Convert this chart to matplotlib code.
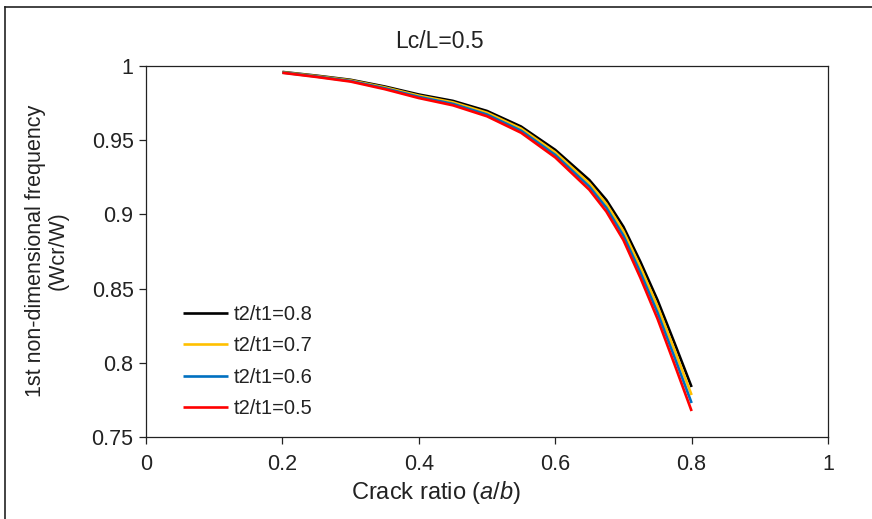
import matplotlib
matplotlib.use("Agg")
import matplotlib.pyplot as plt
from matplotlib.lines import Line2D

plt.rcParams['font.family'] = ['Liberation Sans', 'DejaVu Sans']
plt.rcParams['mathtext.fontset'] = 'custom'
plt.rcParams['mathtext.rm'] = 'Liberation Sans'
plt.rcParams['mathtext.it'] = 'Liberation Sans:italic'

# crack ratio a/b
crack_ratio = [0.2, 0.25, 0.3, 0.35, 0.4, 0.45, 0.5, 0.55, 0.6, 0.65,
               0.675, 0.7, 0.725, 0.75, 0.775, 0.8]

# 1st non-dimensional frequency for each thickness ratio
freq_08 = [0.9960, 0.9935, 0.9907, 0.9862, 0.9808, 0.9765, 0.9697, 0.9592,
           0.9435, 0.9232, 0.9097, 0.8917, 0.8680, 0.8423, 0.8133, 0.7837]
freq_07 = [0.9958, 0.9932, 0.9903, 0.9856, 0.9800, 0.9755, 0.9685, 0.9578,
           0.9418, 0.9210, 0.9071, 0.8887, 0.8644, 0.8381, 0.8085, 0.7783]
freq_06 = [0.9956, 0.9929, 0.9899, 0.9850, 0.9792, 0.9745, 0.9673, 0.9564,
           0.9401, 0.9188, 0.9045, 0.8857, 0.8608, 0.8339, 0.8037, 0.7729]
freq_05 = [0.9954, 0.9926, 0.9895, 0.9844, 0.9784, 0.9735, 0.9661, 0.9550,
           0.9384, 0.9166, 0.9019, 0.8827, 0.8572, 0.8297, 0.7989, 0.7675]

series_labels = ['t2/t1=0.8', 't2/t1=0.7', 't2/t1=0.6', 't2/t1=0.5']
series_colors = ['#000000', '#FFC000', '#0070C0', '#FF0000']

x_ticks = [0, 0.2, 0.4, 0.6, 0.8, 1]
x_ticklabels = ['0', '0.2', '0.4', '0.6', '0.8', '1']
y_ticks = [0.75, 0.8, 0.85, 0.9, 0.95, 1]
y_ticklabels = ['0.75', '0.8', '0.85', '0.9', '0.95', '1']

W, H = 872, 519
fig = plt.figure(figsize=(W / 100, H / 100), dpi=100)
ax = fig.add_axes([146 / W, 1 - 437 / H, 682 / W, 371 / H])

for vals, lab, col in zip([freq_08, freq_07, freq_06, freq_05], series_labels, series_colors):
    ax.plot(crack_ratio, vals, color=col, lw=1.9, label=lab, solid_capstyle='butt')

ax.set_xlim(0, 1)
ax.set_ylim(0.75, 1)
ax.set_xticks(x_ticks)
ax.set_xticklabels(x_ticklabels)
ax.set_yticks(y_ticks)
ax.set_yticklabels(y_ticklabels)
ax.tick_params(axis='both', direction='out', length=5, width=0.9, color='#222222',
               labelsize=15.5, labelcolor='#222222')
ax.tick_params(axis='x', pad=7)
ax.tick_params(axis='y', pad=4)
for sp in ax.spines.values():
    sp.set_color('#222222')
    sp.set_linewidth(0.9)

fig.text(439 / W, 1 - 42 / H, 'Lc/L=0.5', ha='center', va='center', fontsize=16.5, color='#222222')
fig.text(47 / W, 1 - 251 / H, '1st non-dimensional frequency\n(Wcr/W)', ha='center', va='center',
         rotation=90, fontsize=15.5, color='#222222', multialignment='center', linespacing=1.1)
fig.text(436 / W, 1 - 492 / H, r'Crack ratio ($\mathit{a/b}$)', ha='center', va='center',
         fontsize=17, color='#222222')

ax.legend(loc='upper left', bbox_to_anchor=(183 / W, 1 - 305 / H), bbox_transform=fig.transFigure,
          frameon=False, fontsize=14.5, handlelength=2.25, handletextpad=0.25,
          labelspacing=0.62, borderpad=0, borderaxespad=0, labelcolor='#222222')

# chart area border (top and left visible)
fig.add_artist(Line2D([5 / W, 1], [1 - 7 / H, 1 - 7 / H], transform=fig.transFigure,
                      color='#222222', lw=1.2))
fig.add_artist(Line2D([5 / W, 5 / W], [0, 1 - 7 / H], transform=fig.transFigure,
                      color='#222222', lw=1.2))

fig.savefig('out.png', dpi=100)
